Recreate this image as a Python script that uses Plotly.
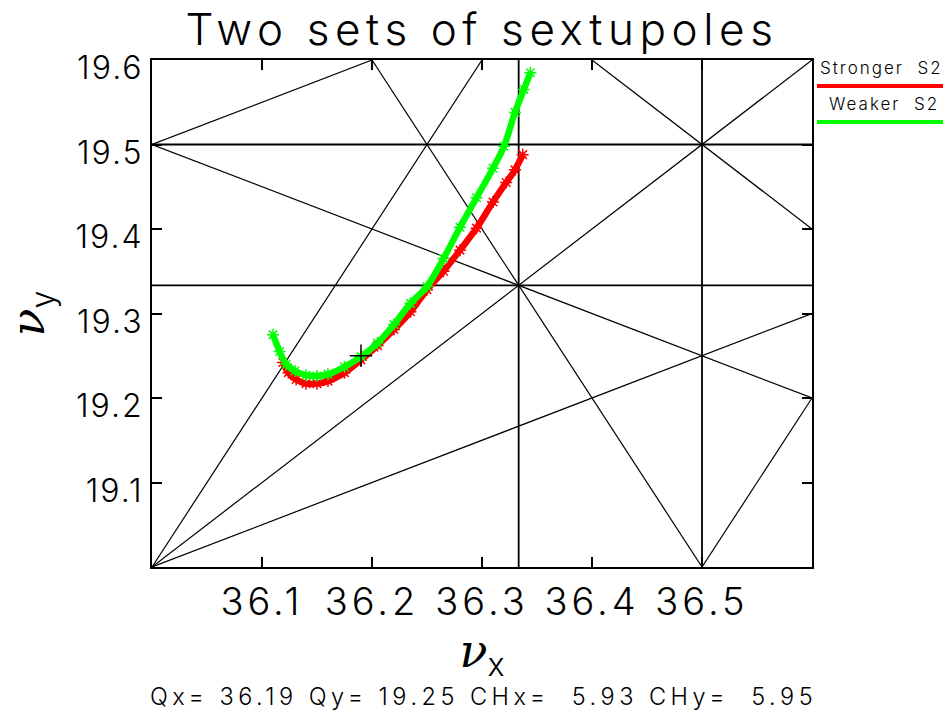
import plotly.graph_objects as go

# Tune window
NUX_RANGE = [36.0, 36.6]
NUY_RANGE = [19.0, 19.6]
X_TICKS = [36.1, 36.2, 36.3, 36.4, 36.5]
Y_TICKS = [19.1, 19.2, 19.3, 19.4, 19.5, 19.6]

# Resonance lines  m*nux + n*nuy = p
RES_ORTHO = [(3, 0, 109), (2, 0, 73), (0, 3, 58), (0, 2, 39)]
RES_DIAG = [(2, -1, 53), (1, -1, 17), (1, -2, -2), (-1, 2, 3),
            (1, 2, 75), (2, 1, 92), (2, -1, 54), (1, 1, 56)]

# Working point
QX, QY = 36.19, 19.25
CHX, CHY = 5.93, 5.95

# Tune footprint, stronger S2
nux_strong = [36.119, 36.124, 36.131, 36.140, 36.150, 36.160, 36.175, 36.190,
              36.205, 36.220, 36.235, 36.250, 36.265, 36.280, 36.295, 36.310,
              36.322, 36.330, 36.337]
nuy_strong = [19.242, 19.230, 19.222, 19.217, 19.217, 19.220, 19.230, 19.245,
              19.262, 19.281, 19.302, 19.328, 19.350, 19.375, 19.401, 19.432,
              19.455, 19.470, 19.488]

# Tune footprint, weaker S2
nux_weak = [36.110, 36.116, 36.122, 36.130, 36.140, 36.150, 36.160, 36.175,
            36.190, 36.205, 36.220, 36.235, 36.250, 36.265, 36.280, 36.295,
            36.310, 36.320, 36.330, 36.338, 36.344]
nuy_weak = [19.275, 19.255, 19.240, 19.232, 19.227, 19.226, 19.228, 19.237,
            19.249, 19.265, 19.287, 19.312, 19.332, 19.365, 19.402, 19.437,
            19.472, 19.498, 19.538, 19.565, 19.585]

FONT = "Inter"
WEIGHT = 300
GREEK = "DejaVu Serif"


def spaced(text, px):
    return f"<span style='letter-spacing:{px}px'>{text}</span>"


def clip_line(m, n, p):
    x0, x1 = NUX_RANGE
    y0, y1 = NUY_RANGE
    eps = 1e-9
    pts = []
    if n != 0:
        for x in (x0, x1):
            y = (p - m * x) / n
            if y0 - eps <= y <= y1 + eps:
                pts.append((x, y))
    if m != 0:
        for y in (y0, y1):
            x = (p - n * y) / m
            if x0 - eps <= x <= x1 + eps:
                pts.append((x, y))
    pts = sorted(set((round(a, 9), round(b, 9)) for a, b in pts))
    if len(pts) < 2:
        return None
    return pts[0], pts[-1]


def res_xy(res):
    xs, ys = [], []
    for m, n, p in res:
        seg = clip_line(m, n, p)
        if seg is None:
            continue
        (xa, ya), (xb, yb) = seg
        xs += [xa, xb, None]
        ys += [ya, yb, None]
    return xs, ys


fig = go.Figure()

xs, ys = res_xy(RES_DIAG)
fig.add_trace(go.Scatter(x=xs, y=ys, mode="lines",
                         line=dict(color="black", width=1.2), showlegend=False))
xs, ys = res_xy(RES_ORTHO)
fig.add_trace(go.Scatter(x=xs, y=ys, mode="lines",
                         line=dict(color="black", width=1.8), showlegend=False))

fig.add_trace(go.Scatter(x=nux_strong, y=nuy_strong, mode="lines+markers",
                         line=dict(color="#ff0000", width=6.5, shape="spline"),
                         marker=dict(symbol="asterisk-open", size=10,
                                     color="#ff0000",
                                     line=dict(color="#ff0000", width=1.5)),
                         showlegend=False))
fig.add_trace(go.Scatter(x=nux_weak, y=nuy_weak, mode="lines+markers",
                         line=dict(color="#00ff00", width=6.5, shape="spline"),
                         marker=dict(symbol="asterisk-open", size=10,
                                     color="#00ff00",
                                     line=dict(color="#00ff00", width=1.5)),
                         showlegend=False))

fig.add_trace(go.Scatter(x=[QX], y=[QY], mode="markers",
                         marker=dict(symbol="cross-thin-open", size=16,
                                     color="black",
                                     line=dict(color="black", width=1.5)),
                         showlegend=False))

# Legend entries drawn beside the frame
legend_items = [("Stronger\u00a0\u00a0S2", "#ff0000", 0.984, 0.9487, 1.009),
                ("Weaker\u00a0\u00a0S2", "#00ff00", 0.913, 0.8777, 1.023)]
for text, col, ty, ly, tx in legend_items:
    fig.add_annotation(text=spaced(text, 2), xref="paper", yref="paper",
                       x=tx, y=ty, xanchor="left", yanchor="middle",
                       showarrow=False,
                       font=dict(family=FONT, size=17, weight=WEIGHT,
                                 color="black"))
    fig.add_shape(type="line", xref="paper", yref="paper",
                  x0=1.0076, x1=1.2, y0=ly, y1=ly,
                  line=dict(color=col, width=4))

info = (f"Qx=\u00a0{QX:.2f}\u00a0Qy=\u00a0{QY:.2f}\u00a0CHx=\u00a0\u00a0{CHX:.2f}"
        f"\u00a0CHy=\u00a0\u00a0{CHY:.2f}")
fig.add_annotation(text=spaced(info, 4.5), xref="paper", yref="paper",
                   x=-0.006, y=-0.2564, xanchor="left", yanchor="middle",
                   showarrow=False,
                   font=dict(family=FONT, size=23.5, weight=WEIGHT,
                             color="black"))

axis_common = dict(showgrid=False, zeroline=False, showline=True,
                   linecolor="black", linewidth=2, mirror="ticks",
                   ticks="inside", ticklen=10, tickwidth=1.5,
                   tickcolor="black")

fig.update_layout(
    width=943, height=718,
    margin=dict(l=152, r=131, t=60, b=151),
    paper_bgcolor="white", plot_bgcolor="white",
    title=dict(text=spaced("Two sets of sextupoles", 5.6), x=0.5, xref="paper",
               y=1 - 30 / 718, yanchor="middle", xanchor="center",
               font=dict(family=FONT, size=44, weight=WEIGHT, color="black")),
    xaxis=dict(range=NUX_RANGE, tickvals=X_TICKS,
               ticktext=[spaced(f"{v:.1f}", 4) for v in X_TICKS],
               tickfont=dict(family=FONT, size=38, weight=WEIGHT,
                             color="black"),
               title=dict(text="<i>ν</i><sub><span style='font-family:Inter;font-weight:300'>x</span></sub>",
                          font=dict(family=GREEK, size=46, color="black"),
                          standoff=0),
               **axis_common),
    yaxis=dict(range=NUY_RANGE, tickvals=Y_TICKS,
               ticktext=[spaced(f"{v:.1f}", 2) for v in Y_TICKS],
               tickfont=dict(family=FONT, size=32, weight=WEIGHT,
                             color="black"),
               ticklabelshift=8,
               title=dict(text="<i>ν</i><sub><span style='font-family:Inter;font-weight:300'>y</span></sub>",
                          font=dict(family=GREEK, size=46, color="black"),
                          standoff=16),
               **axis_common),
)

fig.write_html("out.html")
